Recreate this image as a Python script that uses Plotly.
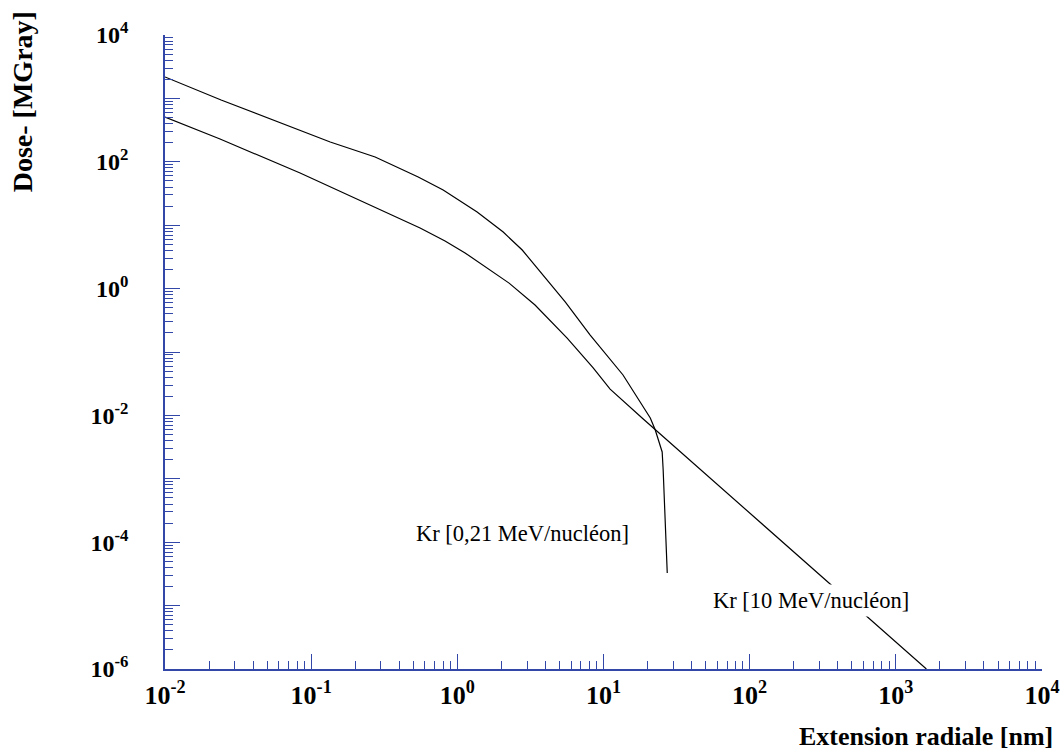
import plotly.graph_objects as go

# Kr 0,21 MeV/nucléon
r_low = [0.01, 0.0242, 0.135, 0.274, 0.54, 0.80, 1.366, 2.06, 2.78, 5.47, 8.11,
         13.6, 20.9, 22.6, 25.2, 25.6, 27.3]
d_low = [2180, 944, 205, 119, 57.5, 35.9, 16.1, 7.8, 4.06, 0.615, 0.185,
         0.0434, 0.0091, 0.00589, 0.00265, 0.00138, 3.27e-5]

# Kr 10 MeV/nucléon
r_high = [0.01, 0.0238, 0.084, 0.253, 0.556, 0.824, 1.13, 2.26, 3.40, 5.64, 8.5,
          11.1, 18.7, 1618]
d_high = [509, 229, 66.5, 20.8, 9.03, 5.64, 3.65, 1.22, 0.55, 0.166, 0.056,
          0.026, 0.00877, 1e-6]

x_decades = [-2, -1, 0, 1, 2, 3, 4]
y_decades = [-6, -5, -4, -3, -2, -1, 0, 1, 2, 3, 4]
y_labeled = [-6, -4, -2, 0, 2, 4]

label_low = "Kr [0,21 MeV/nucléon]"
label_high = "Kr [10 MeV/nucléon]"
x_title = "Extension radiale [nm]"
y_title = "Dose- [MGray]"

FONT = "Liberation Serif, Times New Roman, serif"
AXC = "#3347A8"

def minor_vals(decs):
    return [m * 10.0 ** d for d in decs[:-1] for m in range(2, 10)]

def lab(d):
    return f"<b>10<sup>{d}</sup></b>"

fig = go.Figure()
fig.add_trace(go.Scatter(x=r_low, y=d_low, mode="lines",
                         line=dict(color="black", width=1.2), showlegend=False))
fig.add_trace(go.Scatter(x=r_high, y=d_high, mode="lines",
                         line=dict(color="black", width=1.2), showlegend=False))

fig.update_xaxes(type="log", range=[-2, 4], showgrid=False, zeroline=False,
                 automargin=False,
                 showline=True, linecolor=AXC, linewidth=1.5,
                 ticks="inside", ticklen=15, tickcolor=AXC, tickwidth=1.2,
                 tickmode="array", tickvals=[10.0 ** d for d in x_decades],
                 ticktext=[lab(d) for d in x_decades],
                 tickfont=dict(family=FONT, size=26, color="black"),
                 ticklabelstandoff=2,
                 minor=dict(ticks="inside", ticklen=8, tickcolor=AXC, tickwidth=1,
                            tickmode="array", tickvals=minor_vals(x_decades),
                            showgrid=False))
fig.update_yaxes(type="log", range=[-6, 4], showgrid=False, zeroline=False,
                 automargin=False,
                 showline=True, linecolor=AXC, linewidth=1.5,
                 ticks="inside", ticklen=15, tickcolor=AXC, tickwidth=1.2,
                 tickmode="array", tickvals=[10.0 ** d for d in y_decades],
                 ticktext=[lab(d) if d in y_labeled else "" for d in y_decades],
                 tickfont=dict(family=FONT, size=24, color="black"),
                 ticklabelstandoff=30,
                 minor=dict(ticks="inside", ticklen=8, tickcolor=AXC, tickwidth=1,
                            tickmode="array", tickvals=minor_vals(y_decades),
                            showgrid=False))

fig.add_annotation(x=0.408, y=0.2145, xref="paper", yref="paper",
                   text=label_low, showarrow=False, xanchor="center", yanchor="middle",
                   font=dict(family=FONT, size=22.5, color="black"))
fig.add_annotation(x=0.7366, y=0.1088, xref="paper", yref="paper",
                   text=label_high, showarrow=False, xanchor="center", yanchor="middle",
                   bgcolor="white", borderpad=3,
                   font=dict(family=FONT, size=22.5, color="black"))

fig.add_annotation(x=1.0148, y=-0.107, xref="paper", yref="paper", text=f"<b>{x_title}</b>",
                   showarrow=False, xanchor="right", yanchor="middle",
                   font=dict(family=FONT, size=26, color="black"))
fig.add_annotation(x=-0.163, y=0.894, xref="paper", yref="paper", text=f"<b>{y_title}</b>",
                   showarrow=False, textangle=-90, xanchor="center", yanchor="middle",
                   font=dict(family=FONT, size=28, color="black"))

fig.update_layout(width=1060, height=756, plot_bgcolor="white", paper_bgcolor="white",
                  margin=dict(l=165, r=18, t=35, b=87))

fig.write_html("out.html", config={"displayModeBar": False},
               post_script="document.body.style.margin='0';document.body.style.overflow='hidden';")
